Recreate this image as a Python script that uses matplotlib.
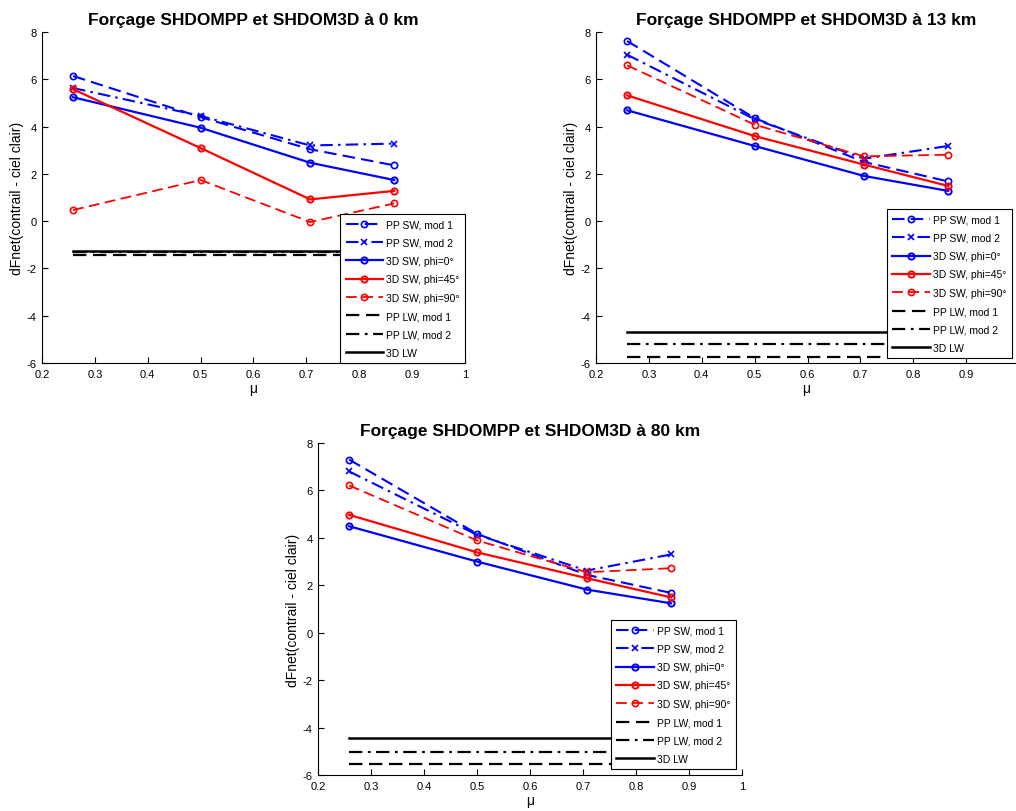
import matplotlib
matplotlib.use("Agg")
import matplotlib.pyplot as plt
import numpy as np

plt.rcParams['font.family'] = ['Liberation Sans', 'DejaVu Sans']
plt.rcParams['axes.unicode_minus'] = False

mu = [0.2588, 0.5, 0.7071, 0.866]

titles = ["Forçage SHDOMPP et SHDOM3D à 0 km",
          "Forçage SHDOMPP et SHDOM3D à 13 km",
          "Forçage SHDOMPP et SHDOM3D à 80 km"]

labels = ["PP SW, mod 1", "PP SW, mod 2", "3D SW, phi=0°", "3D SW, phi=45°",
          "3D SW, phi=90°", "PP LW, mod 1", "PP LW, mod 2", "3D LW"]

xtick_labels = ['0.2', '0.3', '0.4', '0.5', '0.6', '0.7', '0.8', '0.9', '1']

# 0 km
pp_sw_mod1_0 = [6.14, 4.40, 3.04, 2.36]
pp_sw_mod2_0 = [5.63, 4.45, 3.20, 3.28]
sw3d_phi0_0 = [5.24, 3.95, 2.47, 1.74]
sw3d_phi45_0 = [5.58, 3.09, 0.92, 1.28]
sw3d_phi90_0 = [0.47, 1.74, -0.04, 0.75]
pp_lw_mod1_0 = -1.42
pp_lw_mod2_0 = -1.32
lw3d_0 = -1.25

# 13 km
pp_sw_mod1_13 = [7.62, 4.36, 2.50, 1.68]
pp_sw_mod2_13 = [7.04, 4.31, 2.64, 3.18]
sw3d_phi0_13 = [4.69, 3.18, 1.91, 1.28]
sw3d_phi45_13 = [5.32, 3.60, 2.39, 1.49]
sw3d_phi90_13 = [6.59, 4.08, 2.74, 2.81]
pp_lw_mod1_13 = -5.75
pp_lw_mod2_13 = -5.21
lw3d_13 = -4.69

# 80 km
pp_sw_mod1_80 = [7.30, 4.17, 2.44, 1.68]
pp_sw_mod2_80 = [6.80, 4.13, 2.62, 3.30]
sw3d_phi0_80 = [4.49, 3.00, 1.82, 1.24]
sw3d_phi45_80 = [4.97, 3.39, 2.30, 1.49]
sw3d_phi90_80 = [6.21, 3.89, 2.55, 2.72]
pp_lw_mod1_80 = -5.52
pp_lw_mod2_80 = -5.01
lw3d_80 = -4.42

datasets = [
    (pp_sw_mod1_0, pp_sw_mod2_0, sw3d_phi0_0, sw3d_phi45_0, sw3d_phi90_0, pp_lw_mod1_0, pp_lw_mod2_0, lw3d_0),
    (pp_sw_mod1_13, pp_sw_mod2_13, sw3d_phi0_13, sw3d_phi45_13, sw3d_phi90_13, pp_lw_mod1_13, pp_lw_mod2_13, lw3d_13),
    (pp_sw_mod1_80, pp_sw_mod2_80, sw3d_phi0_80, sw3d_phi45_80, sw3d_phi90_80, pp_lw_mod1_80, pp_lw_mod2_80, lw3d_80),
]

W, H = 1016, 812
fig = plt.figure(figsize=(W / 100, H / 100), dpi=100)

def rect(l, t, r, b):
    return [l / W, 1 - b / H, (r - l) / W, (b - t) / H]

# the 13 km panel is clipped by the right edge of the figure
axes_rects = [rect(42, 33, 465, 364), rect(596, 33, 1016, 364), rect(318, 444, 742, 776)]
xmax = [1.0, 0.2 + 0.8 * (1016 - 596) / 423.0, 1.0]
legend_anchor = [(1.0, 0.0), (0.99, 0.015), (0.985, 0.018)]

blue = '#0000ff'
red = '#ff0000'
ms = 4.5

for k, (r, d) in enumerate(zip(axes_rects, datasets)):
    ax = fig.add_axes(r)
    m1, m2, p0, p45, p90, l1, l2, l3 = d
    ax.plot(mu, m1, color=blue, ls=(0, (6, 3)), lw=1.5, marker='o', ms=ms, mfc='none', mew=1.2, label=labels[0])
    ax.plot(mu, m2, color=blue, ls=(0, (6, 2.5, 1.2, 2.5)), lw=1.5, marker='x', ms=ms, mew=1.2, label=labels[1])
    ax.plot(mu, p0, color=blue, ls='-', lw=1.6, marker='o', ms=ms, mfc='none', mew=1.4, label=labels[2])
    ax.plot(mu, p45, color=red, ls='-', lw=1.6, marker='o', ms=ms, mfc='none', mew=1.4, label=labels[3])
    ax.plot(mu, p90, color=red, ls=(0, (6, 3)), lw=1.3, marker='o', ms=ms, mfc='none', mew=1.2, label=labels[4])
    ax.plot([mu[0], mu[-1]], [l1, l1], color='k', ls=(0, (6, 3)), lw=1.6, label=labels[5])
    ax.plot([mu[0], mu[-1]], [l2, l2], color='k', ls=(0, (6, 2.5, 1.2, 2.5)), lw=1.6, label=labels[6])
    ax.plot([mu[0], mu[-1]], [l3, l3], color='k', ls='-', lw=1.8, label=labels[7])

    ax.set_xlim(0.2, xmax[k])
    ax.set_ylim(-6, 8)
    ticks = [t for t in np.arange(0.2, 1.01, 0.1) if t <= xmax[k] + 1e-9]
    ax.set_xticks(ticks)
    ax.set_xticklabels(xtick_labels[:len(ticks)])
    ax.set_yticks(np.arange(-6, 8.1, 2))
    ax.spines['top'].set_visible(False)
    ax.spines['right'].set_visible(False)
    ax.tick_params(direction='in', length=4, labelsize=8, width=0.8, pad=4)
    ax.set_title(titles[k], fontsize=12.5, fontweight='bold', pad=6)
    ax.set_ylabel('dFnet(contrail - ciel clair)', fontsize=10, labelpad=2)
    ax.set_xlabel('μ', fontsize=10, labelpad=2)
    leg = ax.legend(loc='lower right', bbox_to_anchor=legend_anchor[k], fontsize=7.5, frameon=True,
                    fancybox=False, edgecolor='k', framealpha=1, handlelength=3.6,
                    labelspacing=0.8, borderaxespad=0, handletextpad=0.3, borderpad=0.5)
    leg.get_frame().set_linewidth(0.8)

fig.savefig('out.png', dpi=100)
